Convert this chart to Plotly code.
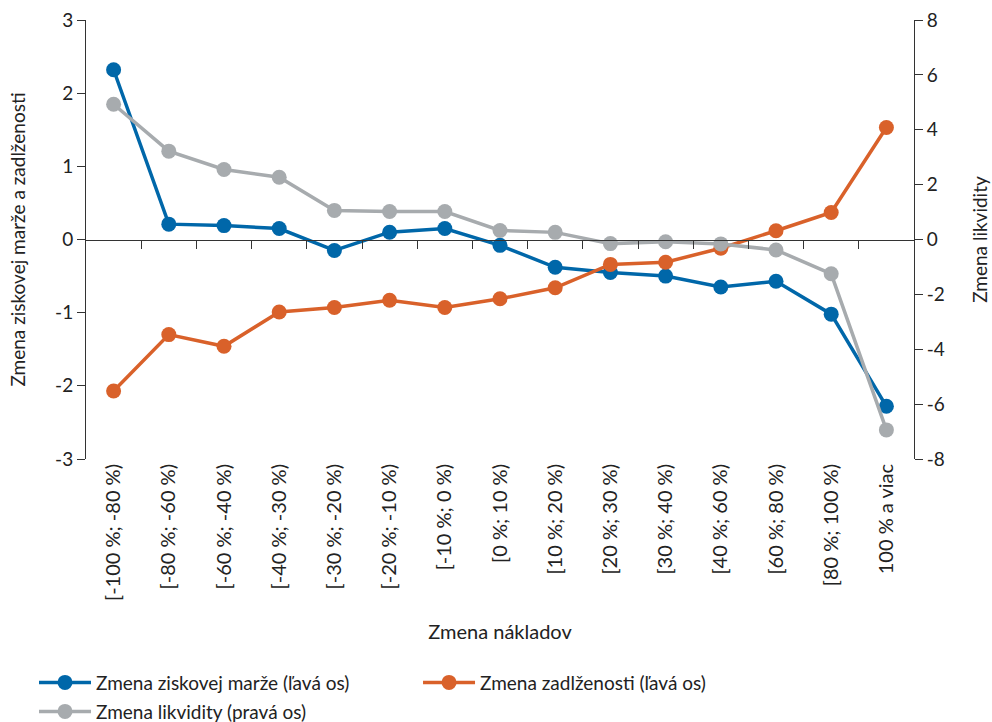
import plotly.graph_objects as go

categories = ["[-100 %; -80 %)", "[-80 %; -60 %)", "[-60 %; -40 %)", "[-40 %; -30 %)",
              "[-30 %; -20 %)", "[-20 %; -10 %)", "[-10 %; 0 %)", "[0 %; 10 %)",
              "[10 %; 20 %)", "[20 %; 30 %)", "[30 %; 40 %)", "[40 %; 60 %)",
              "[60 %; 80 %)", "[80 %; 100 %)", "100 % a viac"]
marza = [2.32, 0.21, 0.19, 0.15, -0.15, 0.10, 0.15, -0.08, -0.38, -0.45, -0.50, -0.65, -0.57, -1.02, -2.28]
zadlzenost = [-2.07, -1.30, -1.46, -0.99, -0.93, -0.83, -0.93, -0.81, -0.66, -0.34, -0.31, -0.12, 0.12, 0.37, 1.53]
likvidita = [4.93, 3.22, 2.55, 2.27, 1.06, 1.02, 1.02, 0.33, 0.26, -0.15, -0.08, -0.16, -0.38, -1.25, -6.94]
left_ticks = [-3, -2, -1, 0, 1, 2, 3]
right_ticks = [-8, -6, -4, -2, 0, 2, 4, 6, 8]

BLUE = "#0067a9"
ORANGE = "#d9612a"
GREY = "#a7abae"
TXT = "#222222"
AX = "#333333"
FONT = "Lato"

x_idx = list(range(len(categories)))
boundaries = [i + 0.5 for i in x_idx[:-1]]

fig = go.Figure()
fig.add_trace(go.Scatter(x=x_idx, y=marza, name="Zmena ziskovej marže (ľavá os)", mode="lines+markers",
                         line=dict(color=BLUE, width=3.5), marker=dict(size=15, color=BLUE),
                         legend="legend"))
fig.add_trace(go.Scatter(x=x_idx, y=zadlzenost, name="Zmena zadlženosti (ľavá os)", mode="lines+markers",
                         line=dict(color=ORANGE, width=3.5), marker=dict(size=15, color=ORANGE),
                         legend="legend2"))
fig.add_trace(go.Scatter(x=x_idx, y=likvidita, name="Zmena likvidity (pravá os)", mode="lines+markers",
                         line=dict(color=GREY, width=3.5), marker=dict(size=15, color=GREY),
                         yaxis="y2", legend="legend3"))
# invisible helper trace so the zero-line axis is drawn
fig.add_trace(go.Scatter(x=[x_idx[0]], y=[0], xaxis="x2", yaxis="y", mode="markers",
                         marker=dict(opacity=0), showlegend=False, hoverinfo="skip"))

leg_common = dict(orientation="v", xanchor="left", yanchor="top", font=dict(size=19),
                  bgcolor="rgba(0,0,0,0)", itemwidth=52)

fig.update_layout(
    width=992, height=722,
    margin=dict(l=86, r=78, t=20, b=263, autoexpand=False),
    paper_bgcolor="white", plot_bgcolor="white",
    font=dict(family=FONT, size=19, color=TXT),
    xaxis=dict(range=[-0.5, 14.5], tickvals=x_idx, ticktext=categories, tickangle=-90,
               showgrid=False, zeroline=False, showline=False, ticks="", automargin=False,
               title=dict(text="Zmena nákladov", standoff=25, font=dict(size=20)),
               tickfont=dict(size=20)),
    xaxis2=dict(range=[-0.5, 14.5], overlaying="x", anchor="free", position=0.5,
                tickvals=boundaries, showticklabels=False, ticks="outside", ticklen=8,
                tickcolor=AX, tickwidth=1, showline=True, linecolor=AX, linewidth=1,
                showgrid=False, zeroline=False, side="bottom", automargin=False),
    yaxis=dict(range=[-3, 3], tickvals=left_ticks, ticktext=[str(v) for v in left_ticks],
               showgrid=False, zeroline=False, automargin=False, ticklabeloverflow="allow",
               showline=True, linecolor=AX, linewidth=1, ticks="outside", ticklen=8,
               tickcolor=AX, tickfont=dict(size=19),
               title=dict(text="Zmena ziskovej marže a zadlženosti", standoff=24, font=dict(size=19))),
    yaxis2=dict(range=[-8, 8], tickvals=right_ticks, ticktext=[str(v) for v in right_ticks],
                overlaying="y", side="right", automargin=False, ticklabeloverflow="allow",
                showgrid=False, zeroline=False, showline=True, linecolor=AX, linewidth=1,
                ticks="outside", ticklen=8, tickcolor=AX, tickfont=dict(size=19),
                title=dict(text="Zmena likvidity", standoff=29, font=dict(size=19))),
    legend=dict(x=-0.0628, y=-0.466, **leg_common),
    legend2=dict(x=0.401, y=-0.466, **leg_common),
    legend3=dict(x=-0.0628, y=-0.532, **leg_common),
    showlegend=True,
)

fig.write_html("out.html", config={"displayModeBar": False},
               post_script="document.body.style.margin='0px';document.body.style.overflow='hidden';")
